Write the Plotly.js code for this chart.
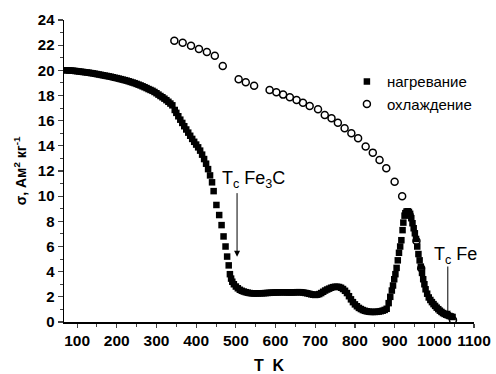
<!DOCTYPE html>
<html>
<head>
<meta charset="utf-8">
<script src="https://cdn.plot.ly/plotly-3.0.1.min.js"></script>
<style>html,body{margin:0;padding:0;background:#fff}#chart{width:496px;height:374px}</style>
</head>
<body>
<div id="chart"></div>
<script>
// Heating (нагревание), filled squares: temperature T (K) and sigma (A m^2 / kg)
const heatT = [70,75,80,85,90,95,100,105,110,115,120,125,130,135,140,145,150,155,160,165,170,175,180,185,190,195,200,205,210,215,220,225,230,235,240,245,250,255,260,265,270,275,280,285,290,295,300,305,310,315,320,325,330,335,340,
346,350,355,360,365,370,375,380,385,390,395,400,405,410,415,420,425,430,435,440,
444,451,458,464,469,474,478,482,485,
488,491,495,500,505,510,515,520,525,530,535,540,545,550,555,560,565,570,575,580,585,590,595,600,605,610,615,620,625,630,635,640,645,650,655,660,665,670,675,680,685,690,695,700,705,710,715,720,725,730,735,740,745,750,755,760,765,770,775,780,785,790,795,800,805,810,815,820,825,830,835,840,845,850,855,860,865,870,875,880,
885,889,893,896,899,902,905,908,911,914,917,920,922,
925,927,930,933,936,939,942,945,948,951,954,
957,960,963,966,969,972,975,978,982,986,
990,994,998,1002,1006,1010,1014,1018,1022,1026,1030,1034,1038,1042,1046];
const heatS = [20.00,20.00,19.99,19.98,19.97,19.95,19.93,19.91,19.89,19.87,19.85,19.83,19.81,19.78,19.76,19.73,19.70,19.67,19.64,19.61,19.58,19.55,19.52,19.49,19.45,19.41,19.38,19.34,19.30,19.26,19.22,19.18,19.13,19.08,19.03,18.98,18.92,18.86,18.80,18.73,18.66,18.59,18.51,18.44,18.37,18.28,18.18,18.07,17.96,17.86,17.75,17.63,17.50,17.36,17.22,
16.85,16.62,16.35,16.08,15.82,15.56,15.30,15.05,14.80,14.55,14.32,14.10,13.88,13.62,13.30,12.95,12.58,12.15,11.65,11.10,
10.4,9.3,8.5,7.7,6.8,6.0,5.2,4.5,3.8,
3.45,3.2,3.0,2.82,2.68,2.56,2.48,2.42,2.37,2.33,2.30,2.28,2.27,2.27,2.27,2.28,2.28,2.29,2.30,2.31,2.32,2.33,2.34,2.35,2.35,2.36,2.36,2.36,2.36,2.35,2.35,2.35,2.35,2.36,2.37,2.37,2.36,2.34,2.31,2.28,2.24,2.20,2.17,2.15,2.17,2.22,2.30,2.40,2.50,2.58,2.65,2.72,2.77,2.80,2.80,2.78,2.72,2.62,2.48,2.30,2.05,1.80,1.58,1.40,1.25,1.12,1.03,0.95,0.89,0.85,0.82,0.80,0.80,0.80,0.81,0.83,0.86,0.90,0.96,1.05,
1.5,2.0,2.5,2.9,3.4,3.8,4.3,4.9,5.5,6.0,6.5,7.3,7.9,
8.45,8.65,8.78,8.80,8.75,8.60,8.25,7.85,7.45,7.05,6.6,
6.0,5.4,4.9,4.4,3.9,3.4,3.0,2.6,2.25,1.95,
1.75,1.58,1.42,1.28,1.14,1.02,0.90,0.80,0.71,0.64,0.58,0.53,0.48,0.44,0.40];

// Cooling (охлаждение), open circles
const coolT = [345,366,387,407,427,447,467,507,525,546,585,602,619,636,653,669,686,707,724,741,757,774,791,808,827,845,862,879,900,919,938,955,967,1047];
const coolS = [22.36,22.2,21.95,21.7,21.45,21.15,20.35,19.29,19.05,18.78,18.44,18.26,18.07,17.86,17.65,17.43,17.17,16.9,16.45,16.19,15.84,15.4,15.0,14.6,13.94,13.46,12.88,12.22,11.15,10.0,8.5,6.44,4.27,0.16];

const seriesNames = ['нагревание', 'охлаждение'];
const xTicks = [100,200,300,400,500,600,700,800,900,1000,1100];
const yTicks = [0,2,4,6,8,10,12,14,16,18,20,22,24];

// Curie-point markers: [label, arrow x (K), arrow tail sigma, arrow head sigma, label x, label y]
const tcFe3C = ['T<sub>c</sub> Fe<sub>3</sub>C', 503, 10.36, 5.19, 460, 11.3];
const tcFe = ['T<sub>c</sub> Fe', 1034, 4.53, 0.42, 993, 5.3];

const FONT = 'Liberation Sans, Arial, sans-serif';

const traces = [
  {x: heatT, y: heatS, name: seriesNames[0], type: 'scatter', mode: 'markers',
   marker: {symbol: 'square', size: 6.5, color: '#000'}},
  {x: coolT, y: coolS, name: seriesNames[1], type: 'scatter', mode: 'markers',
   marker: {symbol: 'circle-open', size: 7, color: '#000', line: {width: 1.5, color: '#000'}}}
];

function arrowAnn(d) {
  return {x: d[1], y: d[3], ax: d[1], ay: d[2], xref: 'x', yref: 'y', axref: 'x', ayref: 'y',
          text: '', showarrow: true, arrowhead: 2, arrowsize: 1.2, arrowwidth: 1, arrowcolor: '#000'};
}
function textAnn(d) {
  return {x: d[4], y: d[5], xref: 'x', yref: 'y', text: d[0], showarrow: false,
          xanchor: 'left', yanchor: 'middle', font: {family: FONT, size: 18, color: '#000'}};
}

const layout = {
  width: 496, height: 374,
  margin: {l: 64, r: 22, t: 20, b: 52},
  paper_bgcolor: '#fff', plot_bgcolor: '#fff',
  showlegend: true,
  legend: {x: 0.69, y: 0.85, xanchor: 'left', yanchor: 'top', bgcolor: 'rgba(0,0,0,0)',
           font: {family: FONT, size: 15, color: '#000'}, tracegroupgap: 0},
  xaxis: {range: [67, 1100], tickvals: xTicks, ticks: 'outside', ticklen: 4, tickwidth: 1.2,
          showgrid: false, zeroline: false, showline: true, linecolor: '#000', linewidth: 1.5,
          minor: {dtick: 50, ticks: 'outside', ticklen: 3, tickwidth: 1, showgrid: false},
          tickfont: {family: FONT, size: 15.5, color: '#000', weight: 'bold'},
          title: {text: 'T  K', font: {family: FONT, size: 16, color: '#000', weight: 'bold'}, standoff: 12}},
  yaxis: {range: [0, 24], tickvals: yTicks, ticks: 'outside', ticklen: 5, tickwidth: 1.2,
          showgrid: false, zeroline: false, showline: true, linecolor: '#000', linewidth: 1.5,
          minor: {dtick: 1, ticks: 'outside', ticklen: 3, tickwidth: 1, showgrid: false},
          tickfont: {family: FONT, size: 15, color: '#000', weight: 'bold'},
          title: {text: 'σ, Ам<sup>2</sup> кг<sup>-1</sup>', font: {family: FONT, size: 14, color: '#000', weight: 'bold'}, standoff: 8}},
  annotations: [arrowAnn(tcFe3C), textAnn(tcFe3C), arrowAnn(tcFe), textAnn(tcFe)]
};

Plotly.newPlot('chart', traces, layout, {displayModeBar: false, staticPlot: true});
</script>
</body>
</html>
